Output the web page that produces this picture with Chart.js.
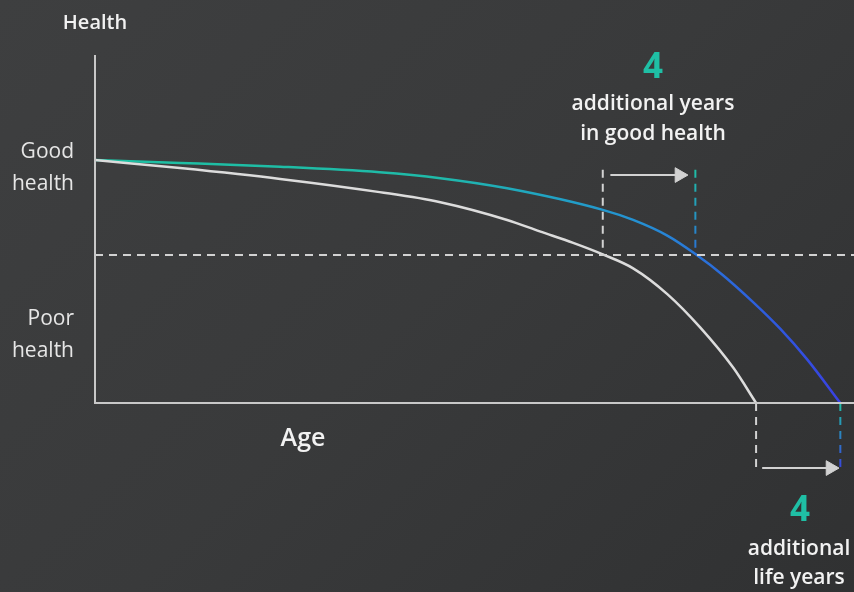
<!DOCTYPE html>
<html>
<head>
<meta charset="utf-8">
<script src="https://cdn.jsdelivr.net/npm/chart.js@4"></script>
<style>
  html, body { margin: 0; padding: 0; }
  body {
    width: 854px; height: 592px; overflow: hidden;
    background: linear-gradient(135deg, #3e3f40 0%, #393a3b 50%, #303132 100%);
  }
  canvas { display: block; }
</style>
</head>
<body>
<canvas id="healthChart" width="854" height="592"></canvas>
<script>
// curve without intervention (age, health)
const ageNow = [0, 11.2, 24.4, 37.5, 45.5, 54.3, 58.6, 63.0, 66.9, 70.9, 75.4, 79.7, 84.1, 87.1];
const healthNow = [69.8, 67.5, 64.4, 60.6, 57.7, 52.6, 49.3, 46.0, 42.7, 38.7, 31.3, 21.8, 10.1, 0];

// curve with the extra years
const ageLonger = [0, 11.2, 24.4, 37.5, 45.5, 54.3, 66.9, 70.9, 75.4, 79.1, 82.7, 86.7, 90.3, 93.8, 98.2];
const healthLonger = [69.8, 69.0, 67.9, 66.3, 64.6, 61.7, 55.5, 52.6, 48.1, 42.8, 36.8, 29.0, 21.3, 12.6, 0];

const goodHealthLine = 42.5;
const goodHealthEnd = [66.9, 79.1];   // age where each curve crosses the line
const lifeEnd = [87.1, 98.2];         // age where each curve hits zero
const markTop = 67.0;                 // top of the upper markers
const markBottom = -19.8;             // bottom of the lower markers
const arrowTop = { y: 65.5, from: 67.9, to: 77.0 };
const arrowBottom = { y: -18.7, from: 87.9, to: 96.9 };

const yLabels = ['Good', 'health', 'Poor', 'health'];
const extraYears = [4, 4];

const grey = '#d2d2d2';
const axisGrey = '#c8c8c8';
const teal = '#1fbfa5';

function curveGradient(context) {
    const chart = context.chart;
    const area = chart.chartArea;
    if (!area) return teal;
    const g = chart.ctx.createLinearGradient(area.left, 0, area.right, 0);
    g.addColorStop(0, '#1ec0a2');
    g.addColorStop(0.45, '#1fbaa9');
    g.addColorStop(0.6, '#21a2c4');
    g.addColorStop(0.72, '#2590d3');
    g.addColorStop(0.8, '#2a72d9');
    g.addColorStop(0.9, '#2f58df');
    g.addColorStop(1, '#3c3ce2');
    return g;
}

function verticalGradient(top, bottom, endColor) {
    return function(context) {
        const chart = context.chart;
        if (!chart.chartArea) return teal;
        const y = chart.scales.y;
        const g = chart.ctx.createLinearGradient(0, y.getPixelForValue(top), 0, y.getPixelForValue(bottom));
        g.addColorStop(0, teal);
        g.addColorStop(1, endColor);
        return g;
    };
}

const toPoints = (xs, ys) => xs.map((x, i) => ({ x: x, y: ys[i] }));

const marker = {
    showLine: true, borderWidth: 2, borderDash: [8, 6], pointRadius: 0, clip: false
};

function arrow(a) {
    return {
        data: [{ x: a.from, y: a.y }, { x: a.to, y: a.y }],
        showLine: true, borderColor: grey, borderWidth: 2, clip: false,
        pointRadius: [0, 8.5], pointStyle: 'triangle', pointRotation: 90,
        pointBackgroundColor: grey, pointBorderColor: grey, pointBorderWidth: 1
    };
}

const datasets = [
    // axes
    {
        data: [{ x: 0, y: 100 }, { x: 0, y: 0 }, { x: 100, y: 0 }],
        showLine: true, borderColor: axisGrey, borderWidth: 2, pointRadius: 0, clip: false
    },
    // threshold line
    Object.assign({}, marker, {
        data: [{ x: 0, y: goodHealthLine }, { x: 100, y: goodHealthLine }],
        borderColor: grey
    }),
    Object.assign({}, marker, {
        data: [{ x: goodHealthEnd[0], y: markTop }, { x: goodHealthEnd[0], y: goodHealthLine }],
        borderColor: grey
    }),
    Object.assign({}, marker, {
        data: [{ x: goodHealthEnd[1], y: markTop }, { x: goodHealthEnd[1], y: goodHealthLine }],
        borderColor: verticalGradient(markTop, goodHealthLine, '#2a6fd8')
    }),
    Object.assign({}, marker, {
        data: [{ x: lifeEnd[0], y: 0 }, { x: lifeEnd[0], y: markBottom }],
        borderColor: grey
    }),
    Object.assign({}, marker, {
        data: [{ x: lifeEnd[1], y: 0 }, { x: lifeEnd[1], y: markBottom }],
        borderColor: verticalGradient(0, markBottom, '#3a3ee0')
    }),
    arrow(arrowTop),
    arrow(arrowBottom),
    // the two health curves
    {
        data: toPoints(ageNow, healthNow),
        showLine: true, borderColor: '#dcdcdc', borderWidth: 2.5,
        pointRadius: 0, cubicInterpolationMode: 'monotone', clip: false
    },
    {
        data: toPoints(ageLonger, healthLonger),
        showLine: true, borderColor: curveGradient, borderWidth: 2.5,
        pointRadius: 0, cubicInterpolationMode: 'monotone', clip: false
    }
];

const textPlugin = {
    id: 'texts',
    afterDraw(chart) {
        const c = chart.ctx;
        c.save();
        c.textBaseline = 'alphabetic';

        c.fillStyle = '#f2f2f2';
        c.textAlign = 'center';
        c.font = '600 20px "Open Sans"';
        c.fillText('Health', 95, 29);

        c.fillStyle = '#e6e6e6';
        c.textAlign = 'right';
        c.font = '400 21px "Open Sans"';
        c.fillText(yLabels[0], 74, 158);
        c.fillText(yLabels[1], 74, 190);
        c.fillText(yLabels[2], 74, 325);
        c.fillText(yLabels[3], 74, 357);

        c.fillStyle = '#f2f2f2';
        c.textAlign = 'center';
        c.font = '600 25px "Open Sans"';
        c.fillText('Age', 303, 446);

        c.fillStyle = teal;
        c.font = '700 35px "Open Sans"';
        c.fillText(String(extraYears[0]), 653, 78);
        c.fillText(String(extraYears[1]), 800, 521);

        c.fillStyle = '#f2f2f2';
        c.font = '600 21px "Open Sans"';
        c.fillText('additional years', 653, 110);
        c.fillText('in good health', 653, 140);
        c.fillText('additional', 799, 555);
        c.fillText('life years', 799, 584);
        c.restore();
    }
};

new Chart(document.getElementById('healthChart'), {
    type: 'scatter',
    data: { datasets: datasets },
    options: {
        responsive: false,
        animation: false,
        layout: { autoPadding: false, padding: { left: 95, top: 55, right: 0, bottom: 102 } },
        plugins: { legend: { display: false }, tooltip: { enabled: false } },
        scales: {
            x: { display: false, min: 0, max: 100 },
            y: { display: false, min: -25, max: 100 }
        }
    },
    plugins: [textPlugin]
});
</script>
</body>
</html>
